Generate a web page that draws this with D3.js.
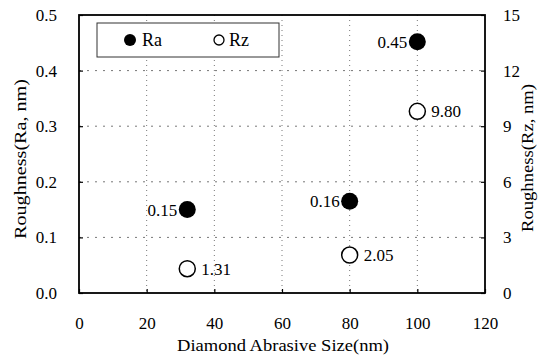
<!DOCTYPE html>
<html>
<head>
<meta charset="utf-8">
<script src="https://cdn.jsdelivr.net/npm/d3@7"></script>
<style>
  body { margin: 0; background: #fff; }
  svg text { font-family: "Liberation Serif", "DejaVu Serif", serif !important; fill: #000; }
</style>
</head>
<body>
<div id="chart"></div>
<script>
// data
var sizes = [32, 80, 100];
var raValues = [0.15, 0.165, 0.452];
var rzValues = [1.31, 2.05, 9.8];
var raLabels = ["0.15", "0.16", "0.45"];
var rzLabels = ["1.31", "2.05", "9.80"];
var xTicks = [0, 20, 40, 60, 80, 100, 120];
var leftTicks = [0.0, 0.1, 0.2, 0.3, 0.4, 0.5];
var rightTicks = [0, 3, 6, 9, 12, 15];

var W = 548, H = 358;
var margin = {top: 15, right: 63, bottom: 65, left: 79};
var width = W - margin.left - margin.right,
    height = H - margin.top - margin.bottom;
var serif = "'Liberation Serif', 'DejaVu Serif', serif";

var svg = d3.select("#chart").append("svg")
    .attr("width", W).attr("height", H);
var g = svg.append("g")
    .attr("transform", "translate(" + margin.left + "," + margin.top + ")");

var x = d3.scaleLinear().domain([0, 120]).range([0, width]);
var yL = d3.scaleLinear().domain([0, 0.5]).range([height, 0]);
var yR = d3.scaleLinear().domain([0, 15]).range([height, 0]);

// dotted grid
g.selectAll(".vgrid").data(xTicks.filter(function(d) { return d > 0 && d < 120; }))
  .enter().append("line")
  .attr("x1", function(d) { return x(d); }).attr("x2", function(d) { return x(d); })
  .attr("y1", 0).attr("y2", height)
  .attr("stroke", "#777").attr("stroke-width", 1).attr("stroke-dasharray", "1,4");
g.selectAll(".hgrid").data(leftTicks.filter(function(d) { return d > 0 && d < 0.5; }))
  .enter().append("line")
  .attr("x1", 0).attr("x2", width)
  .attr("y1", function(d) { return yL(d); }).attr("y2", function(d) { return yL(d); })
  .attr("stroke", "#777").attr("stroke-width", 1).attr("stroke-dasharray", "2,6");

// axes with inward ticks
var xAxis = g.append("g").attr("transform", "translate(0," + height + ")")
  .call(d3.axisBottom(x).tickValues(xTicks).tickFormat(d3.format("d")).tickSizeInner(-4).tickSizeOuter(0).tickPadding(24));
var leftAxis = g.append("g")
  .call(d3.axisLeft(yL).tickValues(leftTicks).tickFormat(d3.format(".1f")).tickSizeInner(-4).tickSizeOuter(0).tickPadding(22));
var rightAxis = g.append("g").attr("transform", "translate(" + width + ",0)")
  .call(d3.axisRight(yR).tickValues(rightTicks).tickFormat(d3.format("d")).tickSizeInner(-4).tickSizeOuter(0).tickPadding(18));

[xAxis, leftAxis, rightAxis].forEach(function(a) {
  a.attr("font-family", serif).attr("font-size", 17);
  a.select(".domain").remove();
  a.selectAll("line").attr("stroke-width", 1.2);
});
xAxis.selectAll("text").attr("dy", "0.71em");

// frame
g.append("rect").attr("width", width).attr("height", height)
  .attr("fill", "none").attr("stroke", "#000").attr("stroke-width", 1.8);

// legend
var legend = g.append("g").attr("transform", "translate(18,8)");
legend.append("rect").attr("width", 182).attr("height", 34)
  .attr("fill", "#fff").attr("stroke", "#333").attr("stroke-width", 1);
legend.append("circle").attr("cx", 33).attr("cy", 17).attr("r", 6).attr("fill", "#000");
legend.append("text").attr("x", 45).attr("y", 23).attr("font-family", serif).attr("font-size", 18).text("Ra");
legend.append("circle").attr("cx", 122).attr("cy", 17).attr("r", 5)
  .attr("fill", "#fff").attr("stroke", "#000").attr("stroke-width", 1.3);
legend.append("text").attr("x", 132).attr("y", 23).attr("font-family", serif).attr("font-size", 18).text("Rz");

// Ra points
g.selectAll(".ra").data(sizes).enter().append("circle")
  .attr("cx", function(d) { return x(d); })
  .attr("cy", function(d, i) { return yL(raValues[i]); })
  .attr("r", 8.5).attr("fill", "#000");
g.selectAll(".ralab").data(sizes).enter().append("text")
  .attr("x", function(d) { return x(d) - 10; })
  .attr("y", function(d, i) { return yL(raValues[i]) + 6; })
  .attr("text-anchor", "end").attr("font-family", serif).attr("font-size", 17)
  .text(function(d, i) { return raLabels[i]; });

// Rz points
g.selectAll(".rz").data(sizes).enter().append("circle")
  .attr("cx", function(d) { return x(d); })
  .attr("cy", function(d, i) { return yR(rzValues[i]); })
  .attr("r", 8).attr("fill", "#fff").attr("stroke", "#000").attr("stroke-width", 1.5);
g.selectAll(".rzlab").data(sizes).enter().append("text")
  .attr("x", function(d) { return x(d) + 14; })
  .attr("y", function(d, i) { return yR(rzValues[i]) + 6; })
  .attr("font-family", serif).attr("font-size", 17)
  .text(function(d, i) { return rzLabels[i]; });

// axis titles
svg.append("text").attr("x", 283).attr("y", 351)
  .attr("text-anchor", "middle").attr("font-family", serif).attr("font-size", 17)
  .attr("textLength", 212).attr("lengthAdjust", "spacingAndGlyphs")
  .text("Diamond Abrasive Size(nm)");
svg.append("text").attr("transform", "translate(26,159) rotate(-90)")
  .attr("text-anchor", "middle").attr("font-family", serif).attr("font-size", 17)
  .attr("textLength", 160).attr("lengthAdjust", "spacingAndGlyphs")
  .text("Roughness(Ra, nm)");
svg.append("text").attr("transform", "translate(533,158) rotate(-90)")
  .attr("text-anchor", "middle").attr("font-family", serif).attr("font-size", 17)
  .attr("textLength", 148).attr("lengthAdjust", "spacingAndGlyphs")
  .text("Roughness(Rz, nm)");
</script>
</body>
</html>
